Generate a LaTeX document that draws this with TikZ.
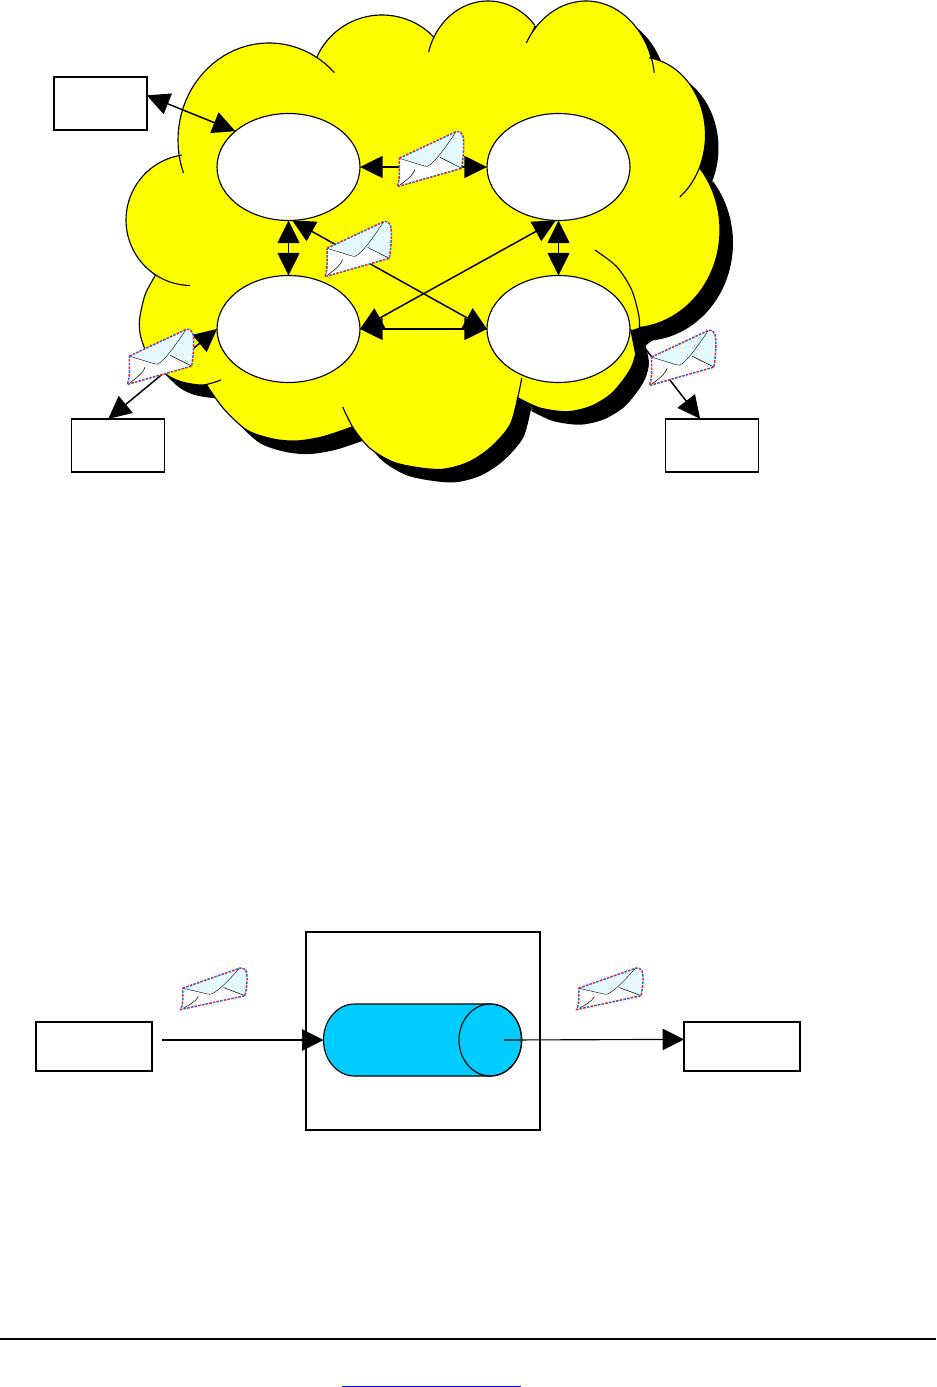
\documentclass[tikz,border=0pt]{standalone}
\usetikzlibrary{shapes.geometric,arrows.meta}
\definecolor{cloudyellow}{RGB}{255,255,0}
\definecolor{cylblue}{RGB}{0,204,255}
\definecolor{flapcyan}{RGB}{228,250,255}
\definecolor{mailred}{RGB}{235,30,40}
\definecolor{mailblue}{RGB}{30,110,245}
\definecolor{linkblue}{RGB}{0,0,255}
\let\x\relax
\newcommand{\ArcLobe}[6]{plot[domain=#5:#6,samples=40] ({#1+#2*cos(\x)},{#3-#4*sin(\x)})}
\newcommand{\LobeA}{\ArcLobe{269}{91}{140}{97}{200}{44}}
\newcommand{\LobeB}{\ArcLobe{382}{71}{85}{70}{157}{42.6}}
\newcommand{\LobeC}{\ArcLobe{488}{61.5}{70}{69}{165}{40.5}}
\newcommand{\LobeD}{\ArcLobe{586}{69}{85}{84}{150}{8.4}}
\newcommand{\LobeE}{\ArcLobe{640}{65.5}{135}{78}{82}{-52.5}}
\newcommand{\LobeF}{\ArcLobe{630}{90}{230}{98}{39}{-84}}
\newcommand{\LobeG}{plot[smooth] coordinates {(632,330)(636,350)(632,366)(623.3,380)(610,395)(590,406.7)(566.7,411.7)(540,408)(518.3,398)}}
\newcommand{\LobeH}{plot[smooth] coordinates {(521.7,378)(518.3,395)(510,425)(490,448)(466.7,463)(438,469.5)(396.7,463.3)(370,448.3)(353.3,428)(342.7,407)}}
\newcommand{\LobeI}{plot[smooth] coordinates {(352,427)(323,436.7)(296.7,441)(273,439)(246.7,430)(223,408)(206.7,385)}}
\newcommand{\LobeJ}{plot[smooth] coordinates {(221,380)(203,385)(182,382)(167,375)(153,362)(146.7,353)(140.7,336.7)(139.5,320)(145,295)(155,276)}}
\newcommand{\LobeK}{\ArcLobe{191}{65}{220}{65.5}{269}{98}}
\tikzset{
  x=0.75pt,y=-0.75pt,
  cloudline/.style={draw=black,line width=0.85pt},
  hostbox/.style={draw=black,fill=white,rectangle,line width=1.1pt,inner sep=0pt,outer sep=0pt,minimum width=69.5pt,minimum height=40pt},
  msgbox/.style={draw=black,fill=white,rectangle,line width=1.1pt,inner sep=0pt,outer sep=0pt,minimum width=87pt,minimum height=37pt},
  broker/.style={draw=black,fill=white,ellipse,line width=0.85pt,inner sep=0pt,outer sep=0pt,minimum width=107.25pt,minimum height=80.25pt},
  link/.style={draw=black,line width=1.1pt,{Triangle[length=17pt,width=16.5pt]}-{Triangle[length=17pt,width=16.5pt]}},
  oneway/.style={draw=black,line width=1.1pt,-{Triangle[length=16pt,width=16pt]}},
  pics/mailicon/.style={code={
    \fill[white] (2,-28.4) -- (58.7,-55) .. controls (62,-56) and (66,-54) .. (66.2,-46.7) .. controls (66.8,-36) and (65.6,-27) .. (64.4,-18.4) -- (0,0) .. controls (3,-8) and (2,-18) .. (2,-28.4) -- cycle;
    \fill[flapcyan] (2,-28.4) -- (58.7,-55) .. controls (62,-56) and (66,-54) .. (66.2,-46.7) .. controls (66.8,-36) and (65.6,-27) .. (64.4,-18.4) -- (42.7,-29.3) -- (31,-20.5) -- (27,-20.7) -- cycle;
    \draw[black,line width=0.3pt] (2,-28.4) -- (27,-20.7) .. controls (29,-20) and (31,-20) .. (33,-22) .. controls (42,-30) and (50,-42) .. (58.7,-55);
    \draw[black,line width=0.4pt] (42.7,-29.3) -- (64.4,-18.4);
    \draw[black,line width=0.4pt] (2.7,-1.7) .. controls (8,-6) and (15,-10) .. (17.7,-17.3);
    \draw[mailred,line width=1.15pt,dash pattern=on 2pt off 3.6pt] (2,-28.4) -- (58.7,-55) .. controls (62,-56) and (66,-54) .. (66.2,-46.7) .. controls (66.8,-36) and (65.6,-27) .. (64.4,-18.4) -- (0,0) .. controls (3,-8) and (2,-18) .. (2,-28.4) -- cycle;
    \draw[mailblue,line width=1.15pt,dash pattern=on 2pt off 3.6pt,dash phase=2.8pt] (2,-28.4) -- (58.7,-55) .. controls (62,-56) and (66,-54) .. (66.2,-46.7) .. controls (66.8,-36) and (65.6,-27) .. (64.4,-18.4) -- (0,0) .. controls (3,-8) and (2,-18) .. (2,-28.4) -- cycle;
  }}
}
\edef\CloudOutline{\LobeA -- \LobeB -- \LobeC -- \LobeD -- \LobeE -- \LobeF -- \LobeG -- \LobeH -- \LobeI -- \LobeJ -- \LobeK -- cycle}
\begin{document}
\begin{tikzpicture}
\useasboundingbox (0,0) rectangle (936,1387);
\fill[white] (0,0) rectangle (936,1387);
% cloud
\fill[black,xshift=9.75pt,yshift=-9.75pt] \CloudOutline;
\fill[cloudyellow] \CloudOutline;
\draw[cloudline] \LobeA;
\draw[cloudline] \LobeB;
\draw[cloudline] \LobeC;
\draw[cloudline] \LobeD;
\draw[cloudline] \LobeE;
\draw[cloudline] \LobeF;
\draw[cloudline] \LobeG;
\draw[cloudline] \LobeH;
\draw[cloudline] \LobeI;
\draw[cloudline] \LobeJ;
\draw[cloudline] \LobeK;
\draw[cloudline] plot[smooth] coordinates {(595,250)(616.7,266.7)(631.7,290)(639,316.7)(639.3,333)};
% nodes
\node[broker] (e1) at (288.5,167) {};
\node[broker] (e2) at (558.5,167) {};
\node[broker] (e3) at (288.5,329) {};
\node[broker] (e4) at (558.5,329) {};
\node[hostbox] (hostA) at (100.5,103.5) {};
\node[hostbox] (hostB) at (118,445.5) {};
\node[hostbox] (hostC) at (712,445.5) {};
% connectors
\draw[link] (hostA.10) -- (e1.146);
\draw[link] (e1.east) -- (e2.west);
\draw[link] (e1.south) -- (e3.north);
\draw[link] (e2.south) -- (e4.north);
\draw[link] (e1.-86) -- (e4.west);
\draw[link] (e2.-93) -- (e3.east);
\draw[link] (e3.east) -- (e4.west);
\draw[link] (e3.west) -- (hostB.110);
\draw[link] (e4.east) -- (hostC.114);
% envelopes
\pic at (397.3,186.7) {mailicon};
\pic at (325,276.7) {mailicon};
\pic at (127.3,384.5) {mailicon};
\pic at (649.5,385.5) {mailicon};
% queue diagram
\node[draw=black,rectangle,line width=1.1pt,inner sep=0pt,outer sep=0pt,minimum width=175.5pt,minimum height=148.5pt] (qbox) at (423,1031) {};
\node[msgbox] (sender) at (94,1046.5) {};
\node[msgbox] (receiver) at (742,1046.5) {};
\draw[draw=black,fill=cylblue,line width=0.85pt] (354.5,1004) -- (490.3,1004) .. controls (507.6,1004) and (521.6,1020.1) .. (521.6,1040) .. controls (521.6,1059.9) and (507.6,1076) .. (490.3,1076) -- (354.5,1076) .. controls (337.4,1076) and (323.5,1059.9) .. (323.5,1040) .. controls (323.5,1020.1) and (337.4,1004) .. (354.5,1004) -- cycle;
\draw[draw=black,line width=0.85pt] (490.3,1040) ellipse[x radius=23.475pt,y radius=27pt];
\coordinate (sendEnd) at (162,1040);
\coordinate (cylIn) at (323.5,1040);
\coordinate (cylOut) at (504,1040);
\draw[oneway] (sendEnd) -- (cylIn);
\draw[oneway,line width=0.85pt] (cylOut) -- (receiver.173.6);
\pic[yscale=.75] at (180.7,1009.5) {mailicon};
\pic[yscale=.75] at (576.7,1009.5) {mailicon};
% footer
\coordinate (ruleL) at (0,1339);
\coordinate (ruleR) at (936,1339);
\coordinate (urlL) at (342,1386);
\coordinate (urlR) at (521,1386);
\draw[black,line width=1.5pt] (ruleL) -- (ruleR);
\draw[linkblue,line width=0.75pt] (urlL) -- (urlR);
\end{tikzpicture}
\end{document}
